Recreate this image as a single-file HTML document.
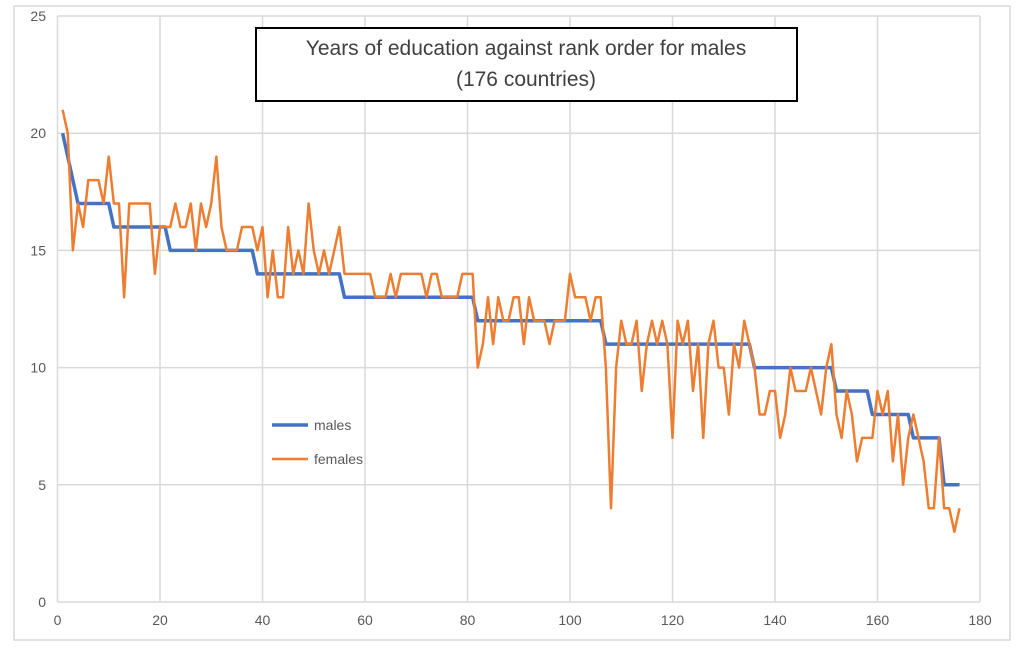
<!DOCTYPE html>
<html><head><meta charset="utf-8"><style>
body{margin:0;background:#fff;}
svg{display:block;font-family:"Liberation Sans",sans-serif;}
</style></head><body>
<svg id="c" width="1024" height="656" viewBox="0 0 1024 656" xmlns="http://www.w3.org/2000/svg">
<rect x="14" y="6" width="996" height="634" fill="#fff" stroke="#d9d9d9" stroke-width="1.5"/>
<g id="grid"></g>
<g id="lbl" font-size="14" fill="#595959"></g>
<polyline id="m" fill="none" stroke="#4472c4" stroke-width="3.5" stroke-linejoin="round"/>
<polyline id="f" fill="none" stroke="#ed7d31" stroke-width="2.5" stroke-linejoin="round"/>
<rect x="256" y="28" width="541" height="73" fill="#fff" stroke="#000" stroke-width="2"/>
<text x="526" y="55" text-anchor="middle" font-size="21" fill="#404040">Years of education against rank order for males</text>
<text x="526" y="86" text-anchor="middle" font-size="21" fill="#404040">(176 countries)</text>
<line x1="272" y1="425" x2="308" y2="425" stroke="#4472c4" stroke-width="3.5"/>
<text x="314" y="430" font-size="14" fill="#595959">males</text>
<line x1="272" y1="459" x2="308" y2="459" stroke="#ed7d31" stroke-width="2.5"/>
<text x="314" y="464" font-size="14" fill="#595959">females</text>
</svg>
<script>
var X=function(v){return 57.5+v*5.125},Y=function(v){return 602-v*23.44};
var g=document.getElementById('grid'),l=document.getElementById('lbl'),ns='http://www.w3.org/2000/svg',h='';
var s='';
for(var i=0;i<=180;i+=20){h+='<line x1="'+X(i)+'" y1="16" x2="'+X(i)+'" y2="602" stroke="#d9d9d9" stroke-width="1.5"/>';s+='<text x="'+X(i)+'" y="625" text-anchor="middle">'+i+'</text>';}
for(var j=0;j<=25;j+=5){h+='<line x1="57.5" y1="'+Y(j)+'" x2="980" y2="'+Y(j)+'" stroke="#d9d9d9" stroke-width="1.5"/>';s+='<text x="46" y="'+(Y(j)+5)+'" text-anchor="end">'+j+'</text>';}
g.innerHTML=h;l.innerHTML=s;
var M=[];function rep(v,a,b){for(var k=a;k<=b;k++)M[k]=v;}
M[1]=20;M[2]=19;M[3]=18;rep(17,4,10);rep(16,11,21);rep(15,22,38);rep(14,39,55);rep(13,56,81);rep(12,82,106);rep(11,107,135);rep(10,136,151);rep(9,152,158);rep(8,159,166);rep(7,167,172);rep(5,173,176);
var F=[0,21,20,15,17,16,18,18,18,17,19,17,17,13,17,17,17,17,17,14,16,16,16,17,16,16,17,15,17,16,17,19,16,15,15,15,16,16,16,15,16,13,15,13,13,16,14,15,14,17,15,14,15,14,15,16,14,14,14,14,14,14,13,13,13,14,13,14,14,14,14,14,13,14,14,13,13,13,13,14,14,14,10,11,13,11,13,12,12,13,13,11,13,12,12,12,11,12,12,12,14,13,13,13,12,13,13,10,4,10,12,11,11,12,9,11,12,11,12,11,7,12,11,12,9,11,7,11,12,10,10,8,11,10,12,11,10,8,8,9,9,7,8,10,9,9,9,10,9,8,10,11,8,7,9,8,6,7,7,7,9,8,9,6,8,5,7,8,7,6,4,4,7,4,4,3,4];
var pm=[],pf=[];for(var k=1;k<=176;k++){pm.push(X(k)+','+Y(M[k]));pf.push(X(k)+','+Y(F[k]));}
document.getElementById('m').setAttribute('points',pm.join(' '));
document.getElementById('f').setAttribute('points',pf.join(' '));
</script>
</body></html>
